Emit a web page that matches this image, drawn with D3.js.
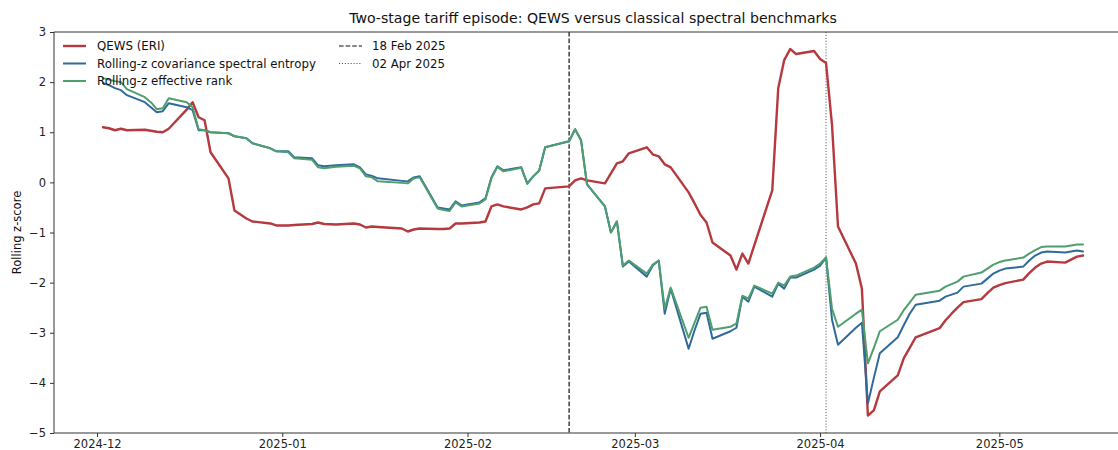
<!DOCTYPE html>
<html>
<head>
<meta charset="utf-8">
<script src="https://cdn.jsdelivr.net/npm/d3@7"></script>
<style>
  body { margin: 0; background: #fff; }
  svg { display: block; font-family: "DejaVu Sans", sans-serif; }
</style>
</head>
<body>
<script>
// trading days, Dec 2024 - May 2025
const dates = [
  "2024-12-02","2024-12-03","2024-12-04","2024-12-05","2024-12-06",
  "2024-12-09","2024-12-10","2024-12-11","2024-12-12","2024-12-13",
  "2024-12-16","2024-12-17","2024-12-18","2024-12-19","2024-12-20",
  "2024-12-23","2024-12-24","2024-12-26","2024-12-27",
  "2024-12-30","2024-12-31","2025-01-02","2025-01-03",
  "2025-01-06","2025-01-07","2025-01-08","2025-01-10",
  "2025-01-13","2025-01-14","2025-01-15","2025-01-16","2025-01-17",
  "2025-01-21","2025-01-22","2025-01-23","2025-01-24",
  "2025-01-27","2025-01-28","2025-01-29","2025-01-30","2025-01-31",
  "2025-02-03","2025-02-04","2025-02-05","2025-02-06","2025-02-07",
  "2025-02-10","2025-02-11","2025-02-12","2025-02-13","2025-02-14",
  "2025-02-18","2025-02-19","2025-02-20","2025-02-21",
  "2025-02-24","2025-02-25","2025-02-26","2025-02-27","2025-02-28",
  "2025-03-03","2025-03-04","2025-03-05","2025-03-06","2025-03-07",
  "2025-03-10","2025-03-11","2025-03-12","2025-03-13","2025-03-14",
  "2025-03-17","2025-03-18","2025-03-19","2025-03-20","2025-03-21",
  "2025-03-24","2025-03-25","2025-03-26","2025-03-27","2025-03-28",
  "2025-03-31","2025-04-01","2025-04-02","2025-04-03","2025-04-04",
  "2025-04-07","2025-04-08","2025-04-09","2025-04-10","2025-04-11",
  "2025-04-14","2025-04-15","2025-04-16","2025-04-17",
  "2025-04-21","2025-04-22","2025-04-23","2025-04-24","2025-04-25",
  "2025-04-28","2025-04-29","2025-04-30","2025-05-01","2025-05-02",
  "2025-05-05","2025-05-06","2025-05-07","2025-05-08","2025-05-09",
  "2025-05-12","2025-05-13","2025-05-14","2025-05-15"
];

const qews = [
  1.10, 1.08, 1.04, 1.07, 1.04,
  1.05, 1.03, 1.01, 1.00, 1.07,
  1.45, 1.60, 1.30, 1.24, 0.60,
  0.08, -0.56, -0.72, -0.78,
  -0.82, -0.86, -0.86, -0.85,
  -0.83, -0.80, -0.83, -0.84,
  -0.82, -0.84, -0.90, -0.88, -0.89,
  -0.92, -0.98, -0.94, -0.92,
  -0.93, -0.93, -0.92, -0.82, -0.82,
  -0.80, -0.78, -0.48, -0.44, -0.48,
  -0.54, -0.50, -0.44, -0.42, -0.12,
  -0.08, 0.04, 0.08, 0.04,
  -0.02, 0.18, 0.38, 0.42, 0.58,
  0.70, 0.56, 0.52, 0.36, 0.30,
  -0.20, -0.42, -0.65, -0.80, -1.20,
  -1.46, -1.74, -1.42, -1.62, -1.25,
  -0.16, 1.88, 2.44, 2.66, 2.56,
  2.62, 2.46, 2.38, 1.14, -0.88,
  -1.62, -2.12, -4.65, -4.55, -4.17,
  -3.85, -3.51, -3.30, -3.09,
  -2.91, -2.75, -2.62, -2.50, -2.39,
  -2.33, -2.21, -2.10, -2.05, -2.01,
  -1.94, -1.81, -1.70, -1.62, -1.58,
  -1.60, -1.54, -1.48, -1.46
];

const entropy = [
  1.98, 1.94, 1.88, 1.84, 1.74,
  1.60, 1.50, 1.40, 1.42, 1.58,
  1.50, 1.44, 1.04, 1.04, 1.00,
  0.98, 0.92, 0.88, 0.78,
  0.68, 0.62, 0.62, 0.50,
  0.48, 0.34, 0.32, 0.34,
  0.36, 0.30, 0.16, 0.13, 0.08,
  0.03, 0.02, 0.10, 0.12,
  -0.50, -0.52, -0.54, -0.38, -0.46,
  -0.40, -0.32, 0.10, 0.32, 0.24,
  0.30, -0.02, 0.12, 0.24, 0.70,
  0.82, 1.06, 0.84, -0.04,
  -0.48, -1.00, -0.78, -1.68, -1.58,
  -1.88, -1.66, -1.56, -2.62, -2.12,
  -3.32, -2.95, -2.62, -2.60, -3.12,
  -2.97, -2.90, -2.28, -2.38, -2.08,
  -2.28, -2.02, -2.12, -1.90, -1.90,
  -1.74, -1.66, -1.50, -2.74, -3.24,
  -2.90, -2.80, -4.41, -3.90, -3.41,
  -3.09, -2.85, -2.62, -2.44,
  -2.36, -2.28, -2.24, -2.20, -2.08,
  -2.02, -1.92, -1.82, -1.76, -1.72,
  -1.68, -1.56, -1.46, -1.40, -1.38,
  -1.40, -1.38, -1.36, -1.38
];

const effRank = [
  2.08, 2.05, 2.02, 2.00, 1.86,
  1.70, 1.60, 1.46, 1.48, 1.68,
  1.60, 1.50, 1.06, 1.04, 1.00,
  0.98, 0.92, 0.88, 0.78,
  0.68, 0.62, 0.60, 0.48,
  0.45, 0.30, 0.28, 0.31,
  0.33, 0.28, 0.12, 0.10, 0.02,
  -0.01, -0.02, 0.08, 0.10,
  -0.52, -0.55, -0.57, -0.40, -0.48,
  -0.42, -0.34, 0.08, 0.31, 0.22,
  0.29, -0.03, 0.12, 0.23, 0.70,
  0.82, 1.06, 0.84, -0.04,
  -0.48, -1.00, -0.78, -1.66, -1.56,
  -1.82, -1.64, -1.56, -2.52, -2.10,
  -3.10, -2.80, -2.50, -2.48, -2.94,
  -2.88, -2.82, -2.26, -2.32, -2.06,
  -2.22, -2.00, -2.06, -1.88, -1.86,
  -1.70, -1.62, -1.50, -2.52, -2.88,
  -2.62, -2.54, -3.61, -3.30, -2.97,
  -2.74, -2.55, -2.40, -2.24,
  -2.16, -2.08, -2.03, -1.98, -1.88,
  -1.80, -1.72, -1.64, -1.59, -1.56,
  -1.50, -1.42, -1.35, -1.29, -1.28,
  -1.28, -1.26, -1.24, -1.24
];

const seriesNames = ["QEWS (ERI)", "Rolling-z covariance spectral entropy", "Rolling-z effective rank"];
const seriesColors = ["#b5393d", "#2f6a9a", "#4e9e6e"];
const eventDates = ["2025-02-18", "2025-04-02"];
const eventLabels = ["18 Feb 2025", "02 Apr 2025"];
const yTicks = [-5, -4, -3, -2, -1, 0, 1, 2, 3];

const W = 1118, H = 450;
const margin = { top: 32, left: 54, bottom: 17 };
const parse = d3.timeParse("%Y-%m-%d");
const xDates = dates.map(parse);

const svg = d3.select("body").append("svg")
    .attr("width", W)
    .attr("height", H);

// x domain padded 5% like matplotlib, right edge falls past the picture
const t0 = xDates[0], t1 = xDates[xDates.length - 1];
const pad = (t1 - t0) * 0.05;
const plotW = 1132 - margin.left;
const xScale = d3.scaleTime()
    .domain([new Date(+t0 - pad), new Date(+t1 + pad)])
    .range([margin.left, margin.left + plotW]);

const yScale = d3.scaleLinear()
    .domain([-5, 3])
    .range([H - margin.bottom, margin.top]);

const dashStyle = ["4.6,2", "1.1,1.8"];
const eventColors = ["#111", "#555"];

// event lines
eventDates.forEach((d, i) => {
    const x = xScale(parse(d));
    svg.append("line")
        .attr("x1", x).attr("x2", x)
        .attr("y1", yScale(3)).attr("y2", yScale(-5))
        .attr("stroke", eventColors[i]).attr("stroke-width", i === 0 ? 1.2 : 1)
        .attr("stroke-dasharray", dashStyle[i]);
});

// lines
const line = d3.line()
    .x((d, i) => xScale(xDates[i]))
    .y(d => yScale(d));

[qews, entropy, effRank].forEach((vals, k) => {
    svg.append("path")
        .attr("d", line(vals))
        .attr("fill", "none")
        .attr("stroke", seriesColors[k])
        .attr("stroke-width", k === 0 ? 2.4 : 2)
        .attr("stroke-linejoin", "round")
        .attr("stroke-linecap", "round");
});

// axes
const xAxis = d3.axisBottom(xScale)
    .ticks(d3.timeMonth.every(1))
    .tickFormat(d3.timeFormat("%Y-%m"))
    .tickSize(4).tickPadding(3);
const gx = svg.append("g")
    .attr("transform", `translate(0,${yScale(-5)})`)
    .call(xAxis);
gx.select(".domain").remove();

const yAxis = d3.axisLeft(yScale)
    .tickValues(yTicks)
    .tickFormat(d => d < 0 ? "\u2212" + Math.abs(d) : d)
    .tickSize(4).tickPadding(4);
const gy = svg.append("g")
    .attr("transform", `translate(${margin.left},0)`)
    .call(yAxis);
gy.select(".domain").remove();

[gx, gy].forEach(g => {
    g.selectAll("text").attr("font-size", 11.5).attr("fill", "#222")
        .attr("font-family", "DejaVu Sans, sans-serif");
    g.selectAll("line").attr("stroke", "#333");
});

// spines
svg.append("line").attr("x1", margin.left).attr("x2", W)
    .attr("y1", yScale(3)).attr("y2", yScale(3)).attr("stroke", "#333").attr("stroke-width", 1);
svg.append("line").attr("x1", margin.left).attr("x2", W)
    .attr("y1", yScale(-5)).attr("y2", yScale(-5)).attr("stroke", "#333").attr("stroke-width", 1);
svg.append("line").attr("x1", margin.left).attr("x2", margin.left)
    .attr("y1", yScale(3)).attr("y2", yScale(-5)).attr("stroke", "#333").attr("stroke-width", 1);

// title and y label
svg.append("text")
    .attr("x", 593).attr("y", 23)
    .attr("text-anchor", "middle")
    .attr("font-size", 14.1).attr("fill", "#111")
    .text("Two-stage tariff episode: QEWS versus classical spectral benchmarks");

svg.append("text")
    .attr("transform", `translate(21,${(yScale(3) + yScale(-5)) / 2}) rotate(-90)`)
    .attr("text-anchor", "middle")
    .attr("font-size", 11.5).attr("fill", "#111")
    .text("Rolling z-score");

// legend
const legend = svg.append("g");
seriesNames.forEach((name, i) => {
    const y = 46 + i * 17.5;
    legend.append("line")
        .attr("x1", 63).attr("x2", 86).attr("y1", y).attr("y2", y)
        .attr("stroke", seriesColors[i]).attr("stroke-width", i === 0 ? 2.4 : 2);
    legend.append("text")
        .attr("x", 97).attr("y", y + 4)
        .attr("font-size", 11.8).attr("fill", "#111")
        .text(name);
});
eventLabels.forEach((name, i) => {
    const y = 46 + i * 17.5;
    legend.append("line")
        .attr("x1", 339).attr("x2", 362).attr("y1", y).attr("y2", y)
        .attr("stroke", eventColors[i]).attr("stroke-width", i === 0 ? 1.2 : 1)
        .attr("stroke-dasharray", dashStyle[i]);
    legend.append("text")
        .attr("x", 372).attr("y", y + 4)
        .attr("font-size", 11.8).attr("fill", "#111")
        .text(name);
});
</script>
</body>
</html>
